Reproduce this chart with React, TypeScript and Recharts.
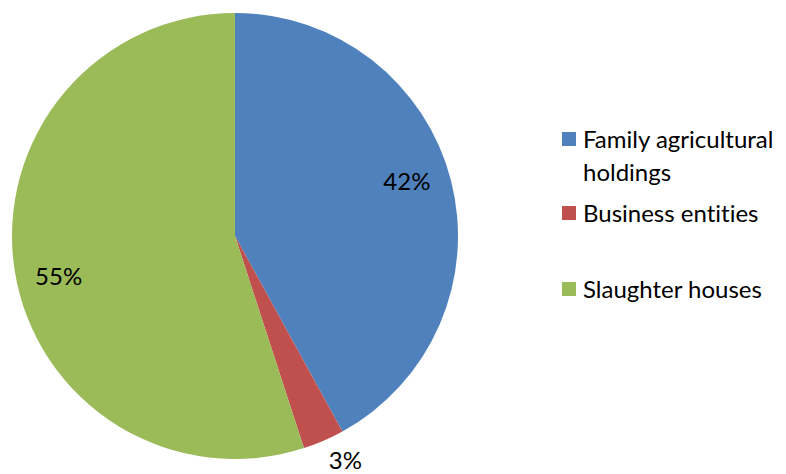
import React from "react";
import { PieChart, Pie, Cell, Legend } from "recharts";

const categories = ["Family agricultural holdings", "Business entities", "Slaughter houses"];
const shares = [42, 3, 55];
const colors = ["#4F81BD", "#C0504D", "#9BBB59"];

const data = categories.map((name, i) => ({ name, value: shares[i] }));
const FONT = "Lato, 'Open Sans', sans-serif";
const RAD = Math.PI / 180;
const noLig = { fontVariantLigatures: "none" as const };

const renderLabel = (props: any) => {
  const { cx, cy, midAngle, outerRadius, percent } = props;
  const text = `${Math.round(percent * 100)}%`;
  if (percent < 0.08) {
    const cos = Math.cos(-midAngle * RAD);
    const sin = Math.sin(-midAngle * RAD);
    const r = outerRadius + 8;
    const x = cx + r * cos;
    const y = cy + r * sin;
    return (
      <text x={x + 2} y={y + 21} fill="#000" fontSize={24} fontFamily={FONT} style={noLig} textAnchor={cos >= 0 ? "start" : "end"}>
        {text}
      </text>
    );
  }
  const a = midAngle + 3.5;
  const cos = Math.cos(-a * RAD);
  const sin = Math.sin(-a * RAD);
  const r = outerRadius * 0.81;
  const x = cx + r * cos;
  const y = cy + r * sin;
  return (
    <text x={x} y={y} fill="#000" fontSize={24} fontFamily={FONT} style={noLig} textAnchor="middle" dominantBaseline="central">
      {text}
    </text>
  );
};

const gaps = [0, 8, 43];

const LegendContent = () => (
  <div style={{ fontFamily: FONT, fontSize: 24, color: "#000", fontVariantLigatures: "none" }}>
    {data.map((d, i) => (
      <div key={d.name} style={{ display: "flex", alignItems: "flex-start", marginTop: gaps[i] }}>
        <div style={{ width: 14, height: 14, background: colors[i], marginTop: 10, marginRight: 7, flex: "none" }} />
        <div style={{ width: 205, lineHeight: "33px" }}>{d.name}</div>
      </div>
    ))}
  </div>
);

export default function App() {
  return (
    <div style={{ position: "absolute", left: 0, top: 0, width: 786, height: 474, background: "#fff" }}>
      <PieChart width={786} height={474} margin={{ top: 0, right: 0, bottom: 0, left: 0 }}>
        <Pie
          data={data}
          dataKey="value"
          nameKey="name"
          cx={235}
          cy={236}
          outerRadius={223}
          startAngle={90}
          endAngle={-270}
          stroke="none"
          labelLine={false}
          label={renderLabel}
          isAnimationActive={false}
        >
          {data.map((d, i) => (
            <Cell key={d.name} fill={colors[i]} />
          ))}
        </Pie>
        <Legend
          content={<LegendContent />}
          wrapperStyle={{ position: "absolute", left: 562, top: 122, width: 224 }}
        />
      </PieChart>
    </div>
  );
}
